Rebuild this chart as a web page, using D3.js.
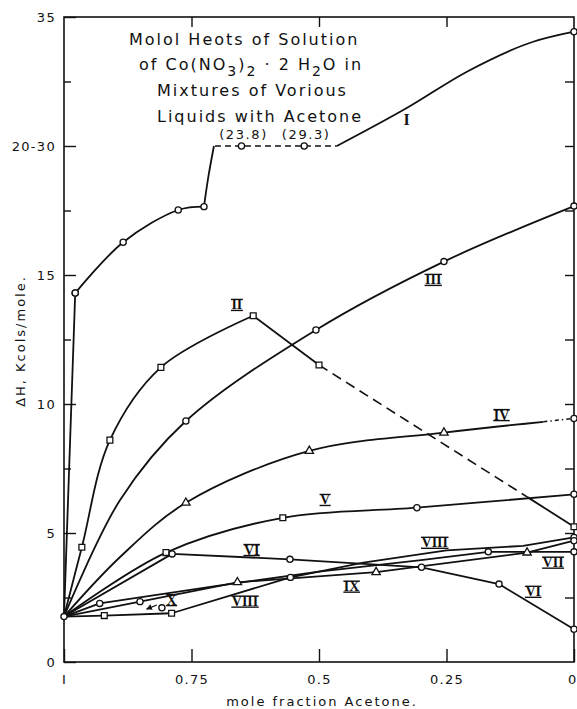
<!DOCTYPE html>
<html>
<head>
<meta charset="utf-8">
<script src="https://cdn.jsdelivr.net/npm/d3@7"></script>
<style>
  html, body { margin: 0; padding: 0; background: #fff; }
  svg { display: block; }
</style>
</head>
<body>
<svg id="chart" width="577" height="709"></svg>
<script>
// each point: [mole fraction acetone, ΔH kcal/mole, marker]  marker: 'o' circle, 's' square, 't' triangle, '' none
// values between 20 and 30 sit on the broken axis ("20-30")
const curveIRise = [[1, 1.76, ''], [0.978, 14.3, 'o']];
const curveIArc = [[0.978, 14.3, 'o'], [0.884, 16.27, 'o'], [0.776, 17.52, 'o'], [0.7255, 17.65, 'o']];
const curveIUp = [[0.7255, 17.65, ''], [0.717, 18.8, ''], [0.706, 20, '']];
const curveIBreak = [[0.704, 30, ''], [0.652, 23.8, 'o'], [0.529, 29.3, 'o'], [0.465, 30, '']];
const curveIHigh = [[0.465, 30, ''], [0.328, 31.47, ''], [0.21, 32.88, ''], [0.08, 34.04, ''], [0, 34.43, 'o']];

const curveII = [[1, 1.76, ''], [0.965, 4.45, 's'], [0.91, 8.6, 's'], [0.81, 11.42, 's'], [0.629, 13.42, 's']];
const curveIIDrop = [[0.629, 13.42, ''], [0.5, 11.51, 's']];
const curveIIDash = [[0.5, 11.51, ''], [0.092, 6.4, '']];
const curveIIEnd = [[0.092, 6.4, ''], [0, 5.24, 's']];

const curveIII = [[1, 1.76, ''], [0.89, 6.28, ''], [0.761, 9.34, 'o'], [0.506, 12.87, 'o'], [0.255, 15.52, 'o'], [0, 17.67, 'o']];

const curveIV = [[1, 1.76, ''], [0.89, 4.07, ''], [0.761, 6.17, 't'], [0.519, 8.18, 't'], [0.255, 8.89, 't'], [0.06, 9.31, '']];
const curveIVDot = [[0.06, 9.31, ''], [0, 9.44, 'o']];

const curveV = [[1, 1.76, ''], [0.8, 4.24, 's'], [0.571, 5.59, 's'], [0.308, 5.98, 'o'], [0, 6.5, 'o']];
const curveVI = [[1, 1.76, ''], [0.788, 4.19, 'o'], [0.557, 3.98, 'o'], [0.299, 3.67, 'o'], [0.147, 3.02, 'o'], [0, 1.27, 'o']];
const curveVII = [[1, 1.76, ''], [0.93, 2.27, 'o'], [0.7, 2.95, ''], [0.5, 3.5, ''], [0.3, 3.95, ''], [0.168, 4.27, 'o'], [0, 4.27, 'o']];
const curveVIII = [[1, 1.76, 'o'], [0.921, 1.8, 's'], [0.789, 1.89, 's'], [0.556, 3.28, 'o'], [0.413, 3.85, ''], [0.25, 4.33, ''], [0.1, 4.5, ''], [0, 4.83, 'o']];
const curveIX = [[1, 1.76, ''], [0.851, 2.34, 'o'], [0.66, 3.09, 't'], [0.388, 3.48, 't'], [0.092, 4.24, 't'], [0, 4.7, 'o']];
const curveX = [[0.808, 2.1, 'o']];
const arrowX = [[0.818, 2.21], [0.838, 2.05]];

// roman numeral labels: [text, mole fraction, ΔH]
const curveLabels = [
  ['I', 0.328, 31.0], ['II', 0.661, 13.84], ['III', 0.276, 14.81], ['IV', 0.142, 9.57],
  ['V', 0.488, 6.28], ['VI', 0.632, 4.34], ['VI', 0.080, 2.72], ['VII', 0.041, 3.85],
  ['VIII', 0.273, 4.62], ['VIII', 0.645, 2.34], ['IX', 0.436, 2.92], ['X', 0.789, 2.40]
];

const xTicks = [1, 0.75, 0.5, 0.25, 0];
const xTickText = ['I', '0.75', '0.5', '0.25', '0'];
const yTicks = [0, 5, 10, 15, 20, 35];
const yTickText = ['0', '5', '10', '15', '20-30', '35'];
const yMinor = [2.5, 7.5, 12.5, 17.5, 32.5];
const yRight = [2.5, 5, 7.5, 10, 12.5, 15, 17.5, 20, 32.5];

const titleLines = ['Molol Heots of Solution', null, 'Mixtures of Vorious', 'Liquids with Acetone'];

const INK = '#111';
const svg = d3.select('#chart');

const x = d3.scaleLinear().domain([1, 0]).range([64, 574]);
const y = d3.scaleLinear().domain([0, 25]).range([662, 17]);
// broken axis: 20..30 collapse onto one line, above 30 shifts down by 10
const brk = v => v <= 20 ? v : (v < 30 ? 20 : v - 10);
const px = d => x(d[0]);
const py = d => y(brk(d[1]));

const smooth = d3.line().x(px).y(py).curve(d3.curveCatmullRom.alpha(0.5));
const monotone = d3.line().x(px).y(py).curve(d3.curveMonotoneX);
const straight = d3.line().x(px).y(py);

// frame
svg.append('rect')
  .attr('x', x(1)).attr('y', y(25))
  .attr('width', x(0) - x(1)).attr('height', y(0) - y(25))
  .attr('fill', 'none').attr('stroke', INK).attr('stroke-width', 1.6);

function styleAxis(g) {
  g.select('.domain').remove();
  g.selectAll('.tick line').attr('stroke', INK).attr('stroke-width', 1.4);
  g.selectAll('text')
    .attr('fill', INK)
    .attr('font-family', 'DejaVu Sans, sans-serif')
    .attr('font-size', 13)
    .attr('letter-spacing', '1.3px');
}

svg.append('g').attr('transform', `translate(${x(1)},0)`)
  .call(d3.axisLeft(y).tickValues(yTicks.map(brk)).tickSizeInner(-12).tickSizeOuter(0)
    .tickPadding(8).tickFormat((d, i) => yTickText[i]))
  .call(styleAxis);

svg.append('g').attr('transform', `translate(${x(1)},0)`)
  .call(d3.axisLeft(y).tickValues(yMinor.map(brk)).tickSizeInner(-7).tickSizeOuter(0).tickFormat(''))
  .call(styleAxis);

svg.append('g').attr('transform', `translate(${x(0)},0)`)
  .call(d3.axisRight(y).tickValues(yRight.map(brk)).tickSizeInner(-9).tickSizeOuter(0).tickFormat(''))
  .call(styleAxis);

svg.append('g').attr('transform', `translate(0,${y(0)})`)
  .call(d3.axisBottom(x).tickValues(xTicks).tickSizeInner(-13).tickSizeOuter(0)
    .tickPadding(13).tickFormat((d, i) => xTickText[i]))
  .call(styleAxis)
  // the right-hand "0" sits on the page edge; nudge it inside
  .call(g => g.selectAll('.tick text').filter(d => d === 0).attr('text-anchor', 'end').attr('dx', 3));

svg.append('g').attr('transform', `translate(0,${y(25)})`)
  .call(d3.axisTop(x).tickValues([0.75, 0.5, 0.25]).tickSizeInner(-10).tickSizeOuter(0).tickFormat(''))
  .call(styleAxis);

// axis titles
svg.append('text')
  .attr('x', (x(1) + x(0)) / 2 + 3).attr('y', 706)
  .attr('text-anchor', 'middle')
  .attr('font-family', 'DejaVu Sans, sans-serif').attr('font-size', 13)
  .attr('letter-spacing', '2px').attr('fill', INK)
  .text('mole fraction Acetone.');

svg.append('text')
  .attr('transform', 'translate(25,341) rotate(-90)')
  .attr('text-anchor', 'middle')
  .attr('font-family', 'DejaVu Sans, sans-serif').attr('font-size', 13)
  .attr('letter-spacing', '2px').attr('fill', INK)
  .text('ΔH, Kcols/mole.');

// title block
const title = svg.append('g')
  .attr('font-family', 'DejaVu Sans, sans-serif').attr('font-size', 16)
  .attr('letter-spacing', '2px').attr('fill', INK);
const titleX = [129, 139, 157, 157];
const titleY = [45, 70, 96, 122];
titleLines.forEach((t, i) => {
  if (t === null) {
    const tx = title.append('text').attr('x', titleX[i]).attr('y', titleY[i]);
    tx.append('tspan').text('of Co(NO');
    tx.append('tspan').attr('dy', 6).attr('font-size', 14).text('3');
    tx.append('tspan').attr('dy', -6).text(')');
    tx.append('tspan').attr('dy', 6).attr('font-size', 14).text('2');
    tx.append('tspan').attr('dy', -6).text(' · 2 H');
    tx.append('tspan').attr('dy', 6).attr('font-size', 14).text('2');
    tx.append('tspan').attr('dy', -6).text('O in');
  } else {
    title.append('text').attr('x', titleX[i]).attr('y', titleY[i]).text(t);
  }
});

// lines
const plot = svg.append('g').attr('fill', 'none').attr('stroke', INK)
  .attr('stroke-width', 1.8).attr('stroke-linejoin', 'round');

const segments = [
  { pts: curveIRise, gen: straight },
  { pts: curveIArc, gen: smooth },
  { pts: curveIUp, gen: smooth },
  { pts: curveIBreak, gen: straight, dash: '6,4', w: 1.5 },
  { pts: curveIHigh, gen: monotone },
  { pts: curveII, gen: smooth },
  { pts: curveIIDrop, gen: straight },
  { pts: curveIIDash, gen: straight, dash: '10,6', w: 1.6 },
  { pts: curveIIEnd, gen: straight },
  { pts: curveIII, gen: smooth },
  { pts: curveIV, gen: smooth },
  { pts: curveIVDot, gen: straight, dash: '4,3,1.5,3', w: 1.5 },
  { pts: curveV, gen: smooth },
  { pts: curveVI, gen: straight },
  { pts: curveVII, gen: straight },
  { pts: curveVIII, gen: straight },
  { pts: curveIX, gen: straight }
];

plot.selectAll('path.seg')
  .data(segments)
  .join('path')
  .attr('class', 'seg')
  .attr('d', s => s.gen(s.pts))
  .attr('stroke-width', s => s.w || 1.8)
  .attr('stroke-dasharray', s => s.dash || null);

// arrow of curve X
svg.append('defs').append('marker')
  .attr('id', 'arr').attr('viewBox', '0 0 10 10').attr('refX', 9).attr('refY', 5)
  .attr('markerWidth', 5).attr('markerHeight', 5).attr('orient', 'auto')
  .append('path').attr('d', 'M0,0L10,5L0,10z').attr('fill', INK);

svg.append('path')
  .attr('d', straight(arrowX))
  .attr('fill', 'none').attr('stroke', INK).attr('stroke-width', 1.2)
  .attr('marker-end', 'url(#arr)');

// markers
const allMarks = segments.flatMap(s => s.pts).concat(curveX).filter(d => d[2]);
const symType = { o: d3.symbolCircle, s: d3.symbolSquare, t: d3.symbolTriangle };
const symSize = { o: 30, s: 34, t: 30 };

svg.append('g').selectAll('path')
  .data(allMarks)
  .join('path')
  .attr('transform', d => `translate(${px(d)},${py(d)})`)
  .attr('d', d => d3.symbol(symType[d[2]], symSize[d[2]])())
  .attr('fill', '#fff').attr('stroke', INK).attr('stroke-width', 1.3);

// off-scale values printed above the broken line
svg.append('g').selectAll('text')
  .data(curveIBreak.filter(d => d[1] > 20 && d[1] < 30))
  .join('text')
  .attr('x', d => px(d) + 2).attr('y', d => py(d) - 7)
  .attr('text-anchor', 'middle')
  .attr('font-family', 'DejaVu Sans, sans-serif').attr('font-size', 13)
  .attr('letter-spacing', '1.6px').attr('fill', INK)
  .text(d => `(${d[1]})`);

// roman numerals, typed with bars above and below
const labs = svg.append('g');
curveLabels.forEach(([t, fx, v]) => {
  const cx = x(fx), cy = y(brk(v));
  const txt = labs.append('text')
    .attr('x', cx).attr('y', cy + 4.5)
    .attr('text-anchor', 'middle')
    .attr('font-family', 'Liberation Serif, serif')
    .attr('font-weight', 'bold')
    .attr('font-size', t === 'I' ? 16 : 14)
    .attr('fill', INK)
    .text(t);
  if (t !== 'I') {
    const w = txt.node().getComputedTextLength();
    [-5.5, 5.5].forEach(off => {
      labs.append('line')
        .attr('x1', cx - w / 2 - 0.5).attr('x2', cx + w / 2 + 0.5)
        .attr('y1', cy + off).attr('y2', cy + off)
        .attr('stroke', INK).attr('stroke-width', 1.4);
    });
  }
});
</script>
</body>
</html>
